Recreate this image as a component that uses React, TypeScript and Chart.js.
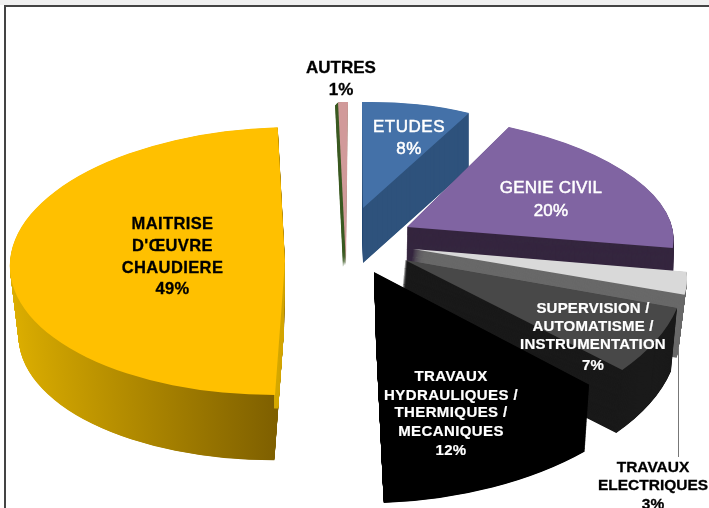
import React, { useEffect, useRef } from "react";
import { Chart, registerables } from "chart.js";

Chart.register(...registerables);

const categories = ["ETUDES", "GENIE CIVIL", "TRAVAUX ELECTRIQUES", "SUPERVISION / AUTOMATISME / INSTRUMENTATION", "TRAVAUX HYDRAULIQUES / THERMIQUES / MECANIQUES", "MAITRISE D'ŒUVRE CHAUDIERE", "AUTRES"];
const shares = [8, 20, 3, 7, 12, 49, 1];
const topColors = ["#4471a8", "#8064a2", "#d9d9d9", "#484848", "#000000", "#ffc000", "#d19a9a"];
const sideColors = ["#2e527c", "#35263f", "#696969", "#1a1a1a", "#000000", "gradient", "#3b5a22"];
const labelLines = [
  ["ETUDES"],
  ["GENIE CIVIL"],
  ["TRAVAUX", "ELECTRIQUES"],
  ["SUPERVISION /", "AUTOMATISME /", "INSTRUMENTATION"],
  ["TRAVAUX", "HYDRAULIQUES /", "THERMIQUES /", "MECANIQUES"],
  ["MAITRISE", "D'ŒUVRE", "CHAUDIERE"],
  ["AUTRES"],
];
const labelColors = ["#ffffff", "#ffffff", "#000000", "#ffffff", "#ffffff", "#000000", "#000000"];
const labelFontSizes = [17, 17, 15.5, 15, 15, 16.5, 17];
const labelSpacing = [0.5, 0.2, 0, 0.2, 0.4, 0.4, 0];
const labelWeights = ["normal", "normal", "bold", "bold", "bold", "bold", "bold"];
const labelStroke = [0.5, 0.5, 0.3, 0.2, 0.2, 0.3, 0.3];
// centre x and y of each text line, the last line being the percentage
const labelCx = [409, 551, 653, 593, 451, 172.5, 341];
const labelYs = [
  [127, 149],
  [188, 211],
  [468, 486, 505],
  [309, 327, 345, 366],
  [377, 396, 413, 432, 451],
  [224, 246, 268, 289],
  [68, 90],
];
// 3D projection of each exploded slice: shift from pie centre, 2x2 matrix, extrusion vector, far-rim scale
const projection = [
  { dx: 8.5, dy: -46, a: 222, b: -4.4, c: 1, d: 106, ex: 0, ey: 55, s: 1 },
  { dx: 52.5, dy: -27, a: 265, b: -0.4, c: 29.5, d: 114, ex: -1, ey: 60, s: 1 },
  { dx: 58.5, dy: -5, a: 266, b: -1, c: 66, d: 127, ex: -8, ey: 63, s: 1 },
  { dx: 50.5, dy: 6, a: 278, b: -13, c: 37, d: 163, ex: -6, ey: 63, s: 1 },
  { dx: 19.5, dy: 18, a: 306, b: -12, c: 8, d: 166, ex: 2, ey: 70, s: 0.97 },
  { dx: -69.5, dy: 7, a: 275, b: 0, c: -10, d: 134, ex: -1, ey: 70, s: 0.965 },
  { dx: -8.5, dy: 10, a: 159, b: 0, c: -2, d: 162, ex: -3, ey: 3, s: 1 },
];
const drawOrder = [5, 6, 0, 1, 2, 3, 4];
const UNIT = 100;
const GOLD_SLICE = 5;
const LIT_FACE_ANGLE = (1.5 * Math.PI) / 180;
const LIT_FACE_REACH = 0.6;

const pie3d = {
  id: "pie3d",
  beforeDatasetDraw(chart: any) {
    const ctx = chart.ctx;
    const arcs = chart.getDatasetMeta(0).data;
    for (const i of drawOrder) {
      const arc = arcs[i];
      const p = projection[i];
      const orig = arc.options;
      const place = (t: number) => {
        const k = (1 - t * (1 - p.s)) / UNIT;
        ctx.translate(arc.x + p.dx + p.ex * t, arc.y + p.dy + p.ey * t);
        ctx.transform(p.a * k, p.b * k, p.c * k, p.d * k, 0, 0);
        ctx.translate(-arc.x, -arc.y);
      };
      const steps = Math.ceil(Math.hypot(p.ex, p.ey)) * 2;
      const extrude = (fill: any) => {
        arc.options = { ...orig, backgroundColor: fill };
        for (let n = steps; n > 0; n--) {
          ctx.save();
          place(n / steps);
          arc.draw(ctx);
          ctx.restore();
        }
        arc.options = orig;
      };
      if (i === GOLD_SLICE) {
        const g = ctx.createLinearGradient(arc.x - UNIT, 0, arc.x, 0);
        g.addColorStop(0, "#dcae00");
        g.addColorStop(1, "#7f6000");
        extrude(g);
        // the thin lit cut face beside the apex
        const { endAngle, circumference, outerRadius } = arc;
        arc.endAngle = arc.startAngle + LIT_FACE_ANGLE;
        arc.circumference = LIT_FACE_ANGLE;
        arc.outerRadius = outerRadius * LIT_FACE_REACH;
        extrude("#d4a800");
        arc.endAngle = endAngle;
        arc.circumference = circumference;
        arc.outerRadius = outerRadius;
      } else {
        extrude(sideColors[i]);
      }
      ctx.save();
      place(0);
      arc.draw(ctx);
      ctx.restore();
    }
    return false;
  },
  afterDraw(chart: any) {
    const ctx = chart.ctx;
    ctx.save();
    // leader line of TRAVAUX ELECTRIQUES
    ctx.strokeStyle = "#777777";
    ctx.lineWidth = 1;
    ctx.beginPath();
    ctx.moveTo(678.5, 347);
    ctx.lineTo(678.5, 457);
    ctx.stroke();
    ctx.textAlign = "center";
    ctx.textBaseline = "middle";
    labelLines.forEach((lines, i) => {
      ctx.font = `${labelWeights[i]} ${labelFontSizes[i]}px "Liberation Sans"`;
      ctx.letterSpacing = `${labelSpacing[i]}px`;
      ctx.fillStyle = labelColors[i];
      ctx.strokeStyle = labelColors[i];
      ctx.lineWidth = labelStroke[i];
      [...lines, `${shares[i]}%`].forEach((text, j) => {
        ctx.fillText(text, labelCx[i], labelYs[i][j]);
        ctx.strokeText(text, labelCx[i], labelYs[i][j]);
      });
    });
    ctx.restore();
  },
};

const frame = {
  id: "frame",
  beforeDraw(chart: any) {
    const ctx = chart.ctx;
    ctx.save();
    ctx.fillStyle = "#ffffff";
    ctx.fillRect(0, 0, chart.width, chart.height);
    ctx.fillStyle = "#f0f0f0";
    ctx.fillRect(0, 0, chart.width, 5);
    ctx.fillStyle = "#444444";
    ctx.fillRect(4, 5, chart.width - 4, 2);
    ctx.fillRect(4, 5, 2, chart.height - 5);
    ctx.restore();
  },
};

export default function App() {
  const ref = useRef<HTMLCanvasElement>(null);
  useEffect(() => {
    const chart = new Chart(ref.current as HTMLCanvasElement, {
      type: "pie",
      data: {
        labels: categories,
        datasets: [{ data: shares, backgroundColor: topColors, borderWidth: 0, radius: UNIT }],
      },
      options: {
        responsive: false,
        animation: false,
        layout: { padding: 0 },
        plugins: { legend: { display: false }, tooltip: { enabled: false } },
      },
      plugins: [frame, pie3d],
    } as any);
    return () => chart.destroy();
  }, []);
  return (
    <div style={{ position: "fixed", left: 0, top: 0, width: 709, height: 508, overflow: "hidden" }}>
      <canvas ref={ref} width={709} height={508} style={{ display: "block" }} />
    </div>
  );
}
